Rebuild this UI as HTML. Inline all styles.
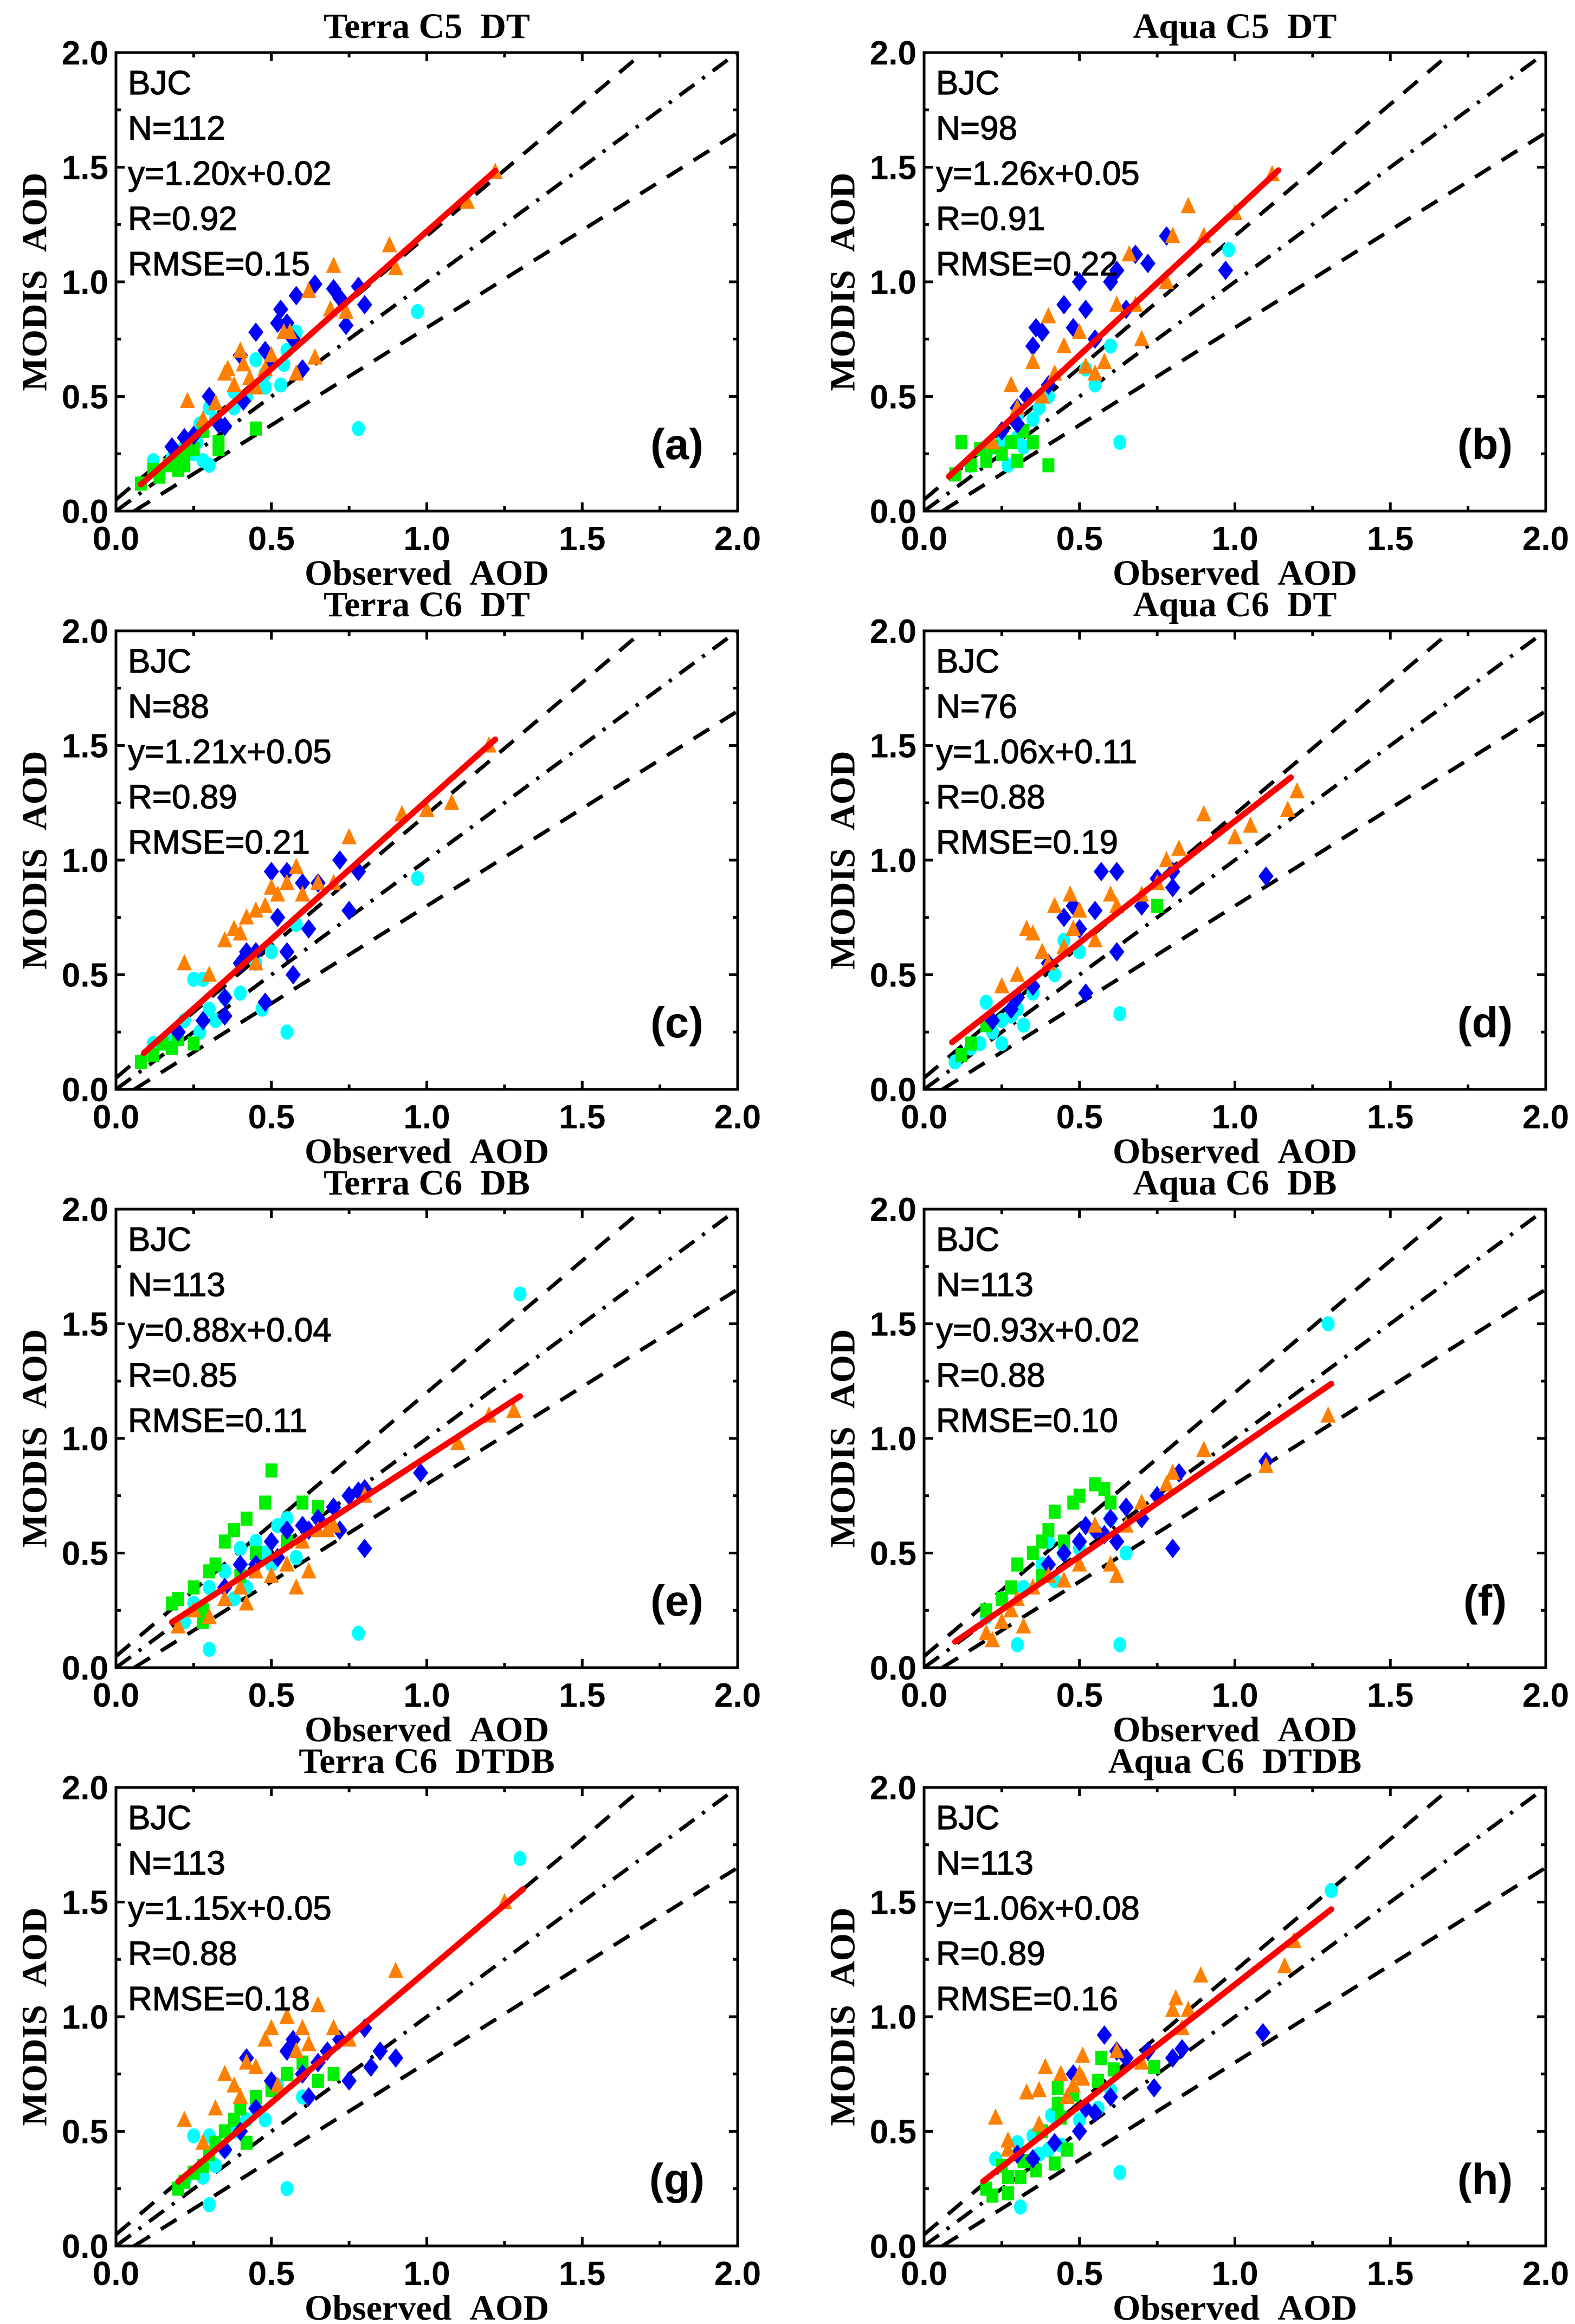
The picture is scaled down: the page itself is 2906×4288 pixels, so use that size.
<!DOCTYPE html>
<html><head><meta charset="utf-8"><style>
html,body{margin:0;padding:0;background:#fff;}
svg{display:block;}
</style></head><body>
<svg id="chart" width="2906" height="4288" viewBox="0 0 2906 4288" xmlns="http://www.w3.org/2000/svg"></svg>
<script>
// ---------- data ----------
const panelTitles = ["Terra C5\u00a0\u00a0DT","Aqua C5\u00a0\u00a0DT","Terra C6\u00a0\u00a0DT","Aqua C6\u00a0\u00a0DT","Terra C6\u00a0\u00a0DB","Aqua C6\u00a0\u00a0DB","Terra C6\u00a0\u00a0DTDB","Aqua C6\u00a0\u00a0DTDB"];
const panelLetters = ["(a)","(b)","(c)","(d)","(e)","(f)","(g)","(h)"];
const statN = ["112","98","88","76","113","113","113","113"];
const fitSlope = [1.20,1.26,1.21,1.06,0.88,0.93,1.15,1.06];
const fitIntercept = [0.02,0.05,0.05,0.11,0.04,0.02,0.05,0.08];
const fitRange = [[0.08,1.22],[0.08,1.14],[0.09,1.22],[0.09,1.18],[0.18,1.30],[0.10,1.31],[0.20,1.31],[0.19,1.31]];
const statR = ["0.92","0.91","0.89","0.88","0.85","0.88","0.88","0.89"];
const statRMSE = ["0.15","0.22","0.21","0.19","0.11","0.10","0.18","0.16"];
const tickValues = [0,0.5,1.0,1.5,2.0];
const tickLabels = ["0.0","0.5","1.0","1.5","2.0"];

const blueData = [
[[0.3,0.5],[0.33,0.38],[0.35,0.37],[0.4,0.68],[0.41,0.48],[0.45,0.78],[0.48,0.7],[0.5,0.65],[0.52,0.82],[0.53,0.88],[0.55,0.82],[0.57,0.75],[0.58,0.94],[0.6,0.62],[0.64,0.99],[0.7,0.97],[0.72,0.93],[0.74,0.81],[0.78,0.98],[0.8,0.9],[0.18,0.28],[0.22,0.32],[0.25,0.33]],
[[0.3,0.45],[0.33,0.5],[0.35,0.72],[0.36,0.8],[0.38,0.78],[0.4,0.55],[0.45,0.9],[0.48,0.8],[0.5,1.0],[0.52,0.88],[0.55,0.75],[0.6,1.0],[0.62,1.05],[0.65,0.88],[0.68,1.12],[0.72,1.08],[0.78,1.2],[0.97,1.05],[0.25,0.35],[0.3,0.38]],
[[0.2,0.25],[0.28,0.3],[0.35,0.4],[0.4,0.55],[0.42,0.6],[0.45,0.6],[0.48,0.38],[0.5,0.95],[0.52,0.75],[0.55,0.95],[0.55,0.6],[0.57,0.5],[0.6,0.9],[0.62,0.7],[0.65,0.9],[0.72,1.0],[0.75,0.78],[0.78,0.95],[0.35,0.32]],
[[0.22,0.3],[0.3,0.4],[0.35,0.45],[0.4,0.55],[0.45,0.75],[0.48,0.8],[0.5,0.7],[0.52,0.42],[0.55,0.78],[0.57,0.95],[0.62,0.95],[0.62,0.6],[0.7,0.8],[0.75,0.92],[0.8,0.88],[0.8,0.95],[1.1,0.93],[0.28,0.35]],
[[0.35,0.35],[0.4,0.45],[0.45,0.45],[0.5,0.55],[0.55,0.6],[0.6,0.62],[0.62,0.6],[0.65,0.65],[0.7,0.7],[0.72,0.6],[0.75,0.75],[0.78,0.77],[0.8,0.52],[0.8,0.78],[0.98,0.85],[0.52,0.48]],
[[0.4,0.45],[0.45,0.5],[0.5,0.55],[0.55,0.6],[0.58,0.58],[0.6,0.65],[0.62,0.55],[0.65,0.7],[0.7,0.65],[0.75,0.75],[0.8,0.52],[0.82,0.85],[1.1,0.9],[0.52,0.62]],
[[0.35,0.42],[0.4,0.5],[0.45,0.6],[0.5,0.72],[0.55,0.85],[0.57,0.9],[0.6,0.75],[0.62,0.65],[0.65,0.8],[0.68,0.85],[0.72,0.9],[0.75,0.72],[0.8,0.95],[0.82,0.78],[0.85,0.85],[0.9,0.82],[0.42,0.82]],
[[0.3,0.4],[0.35,0.38],[0.42,0.45],[0.48,0.75],[0.5,0.5],[0.52,0.6],[0.55,0.58],[0.58,0.92],[0.6,0.65],[0.62,0.85],[0.65,0.82],[0.72,0.85],[0.74,0.69],[0.8,0.82],[0.83,0.86],[1.09,0.93]]
];
const orangeData = [
[[0.23,0.48],[0.32,0.47],[0.36,0.62],[0.38,0.55],[0.4,0.7],[0.41,0.64],[0.43,0.58],[0.45,0.54],[0.48,0.62],[0.5,0.68],[0.54,0.78],[0.56,0.78],[0.58,0.6],[0.62,0.96],[0.64,0.67],[0.69,0.88],[0.7,1.07],[0.74,0.87],[0.88,1.16],[0.9,1.06],[1.13,1.35],[1.22,1.48],[0.28,0.4],[0.35,0.6]],
[[0.22,0.3],[0.28,0.55],[0.3,0.45],[0.35,0.65],[0.4,0.85],[0.42,0.6],[0.45,0.72],[0.5,0.78],[0.52,0.63],[0.55,0.6],[0.58,0.65],[0.62,0.9],[0.66,1.12],[0.68,0.9],[0.7,0.75],[0.78,1.0],[0.8,1.2],[0.85,1.33],[0.9,1.2],[1.0,1.3],[1.12,1.47],[0.38,0.5]],
[[0.22,0.55],[0.3,0.5],[0.35,0.65],[0.38,0.7],[0.4,0.68],[0.42,0.75],[0.45,0.78],[0.48,0.8],[0.5,0.88],[0.52,0.85],[0.55,0.9],[0.58,0.97],[0.6,0.85],[0.65,0.9],[0.7,0.9],[0.75,1.1],[0.92,1.2],[1.0,1.22],[1.08,1.25],[1.2,1.5],[0.45,0.55]],
[[0.25,0.45],[0.3,0.5],[0.33,0.7],[0.35,0.68],[0.4,0.55],[0.42,0.8],[0.45,0.62],[0.47,0.85],[0.48,0.7],[0.5,0.78],[0.55,0.65],[0.6,0.85],[0.62,0.8],[0.7,0.85],[0.75,0.9],[0.78,1.0],[0.82,1.05],[0.9,1.2],[1.0,1.1],[1.05,1.15],[1.17,1.22],[1.2,1.3],[0.38,0.6]],
[[0.2,0.18],[0.25,0.25],[0.3,0.22],[0.35,0.3],[0.4,0.35],[0.42,0.28],[0.45,0.42],[0.5,0.4],[0.55,0.45],[0.6,0.55],[0.62,0.42],[0.65,0.6],[0.68,0.6],[0.7,0.62],[0.8,0.75],[1.1,0.98],[1.2,1.1],[1.28,1.12],[0.58,0.35]],
[[0.2,0.15],[0.22,0.12],[0.25,0.2],[0.28,0.25],[0.3,0.3],[0.32,0.18],[0.35,0.35],[0.4,0.4],[0.45,0.38],[0.5,0.45],[0.55,0.62],[0.6,0.45],[0.65,0.62],[0.7,0.72],[0.78,0.8],[0.8,0.85],[0.9,0.95],[1.1,0.88],[1.3,1.1],[0.62,0.4]],
[[0.22,0.55],[0.28,0.45],[0.32,0.6],[0.35,0.75],[0.38,0.7],[0.4,0.65],[0.42,0.8],[0.45,0.78],[0.48,0.9],[0.5,0.95],[0.52,0.7],[0.55,1.0],[0.58,0.85],[0.6,0.95],[0.62,0.88],[0.65,1.05],[0.7,0.95],[0.75,0.9],[0.9,1.2],[1.25,1.5]],
[[0.23,0.56],[0.27,0.46],[0.27,0.42],[0.33,0.67],[0.37,0.68],[0.37,0.53],[0.39,0.78],[0.44,0.75],[0.46,0.65],[0.48,0.7],[0.5,0.75],[0.51,0.83],[0.51,0.73],[0.62,0.85],[0.7,0.8],[0.8,1.03],[0.81,1.08],[0.83,0.95],[0.85,1.03],[0.89,1.18],[1.16,1.22],[1.19,1.33]]
];
const cyanData = [
[[0.12,0.22],[0.18,0.23],[0.22,0.28],[0.25,0.25],[0.27,0.38],[0.28,0.22],[0.3,0.2],[0.3,0.45],[0.32,0.4],[0.38,0.45],[0.38,0.52],[0.42,0.5],[0.45,0.66],[0.48,0.54],[0.48,0.6],[0.53,0.55],[0.54,0.64],[0.55,0.7],[0.58,0.78],[0.78,0.36],[0.97,0.87],[0.26,0.3]],
[[0.15,0.2],[0.2,0.25],[0.25,0.3],[0.27,0.2],[0.3,0.32],[0.32,0.28],[0.35,0.4],[0.37,0.45],[0.4,0.5],[0.52,0.62],[0.55,0.55],[0.6,0.72],[0.63,0.3],[0.98,1.14],[0.3,0.42]],
[[0.12,0.2],[0.18,0.22],[0.22,0.3],[0.25,0.48],[0.27,0.25],[0.28,0.48],[0.3,0.35],[0.32,0.3],[0.35,0.4],[0.4,0.42],[0.45,0.55],[0.47,0.35],[0.5,0.6],[0.55,0.25],[0.58,0.72],[0.97,0.92]],
[[0.1,0.12],[0.15,0.18],[0.18,0.2],[0.2,0.38],[0.22,0.25],[0.25,0.3],[0.28,0.32],[0.3,0.35],[0.32,0.28],[0.35,0.42],[0.42,0.5],[0.45,0.65],[0.5,0.6],[0.63,0.33],[0.25,0.2]],
[[0.22,0.2],[0.25,0.28],[0.3,0.08],[0.3,0.35],[0.35,0.42],[0.38,0.3],[0.4,0.52],[0.42,0.35],[0.45,0.55],[0.5,0.45],[0.52,0.62],[0.55,0.65],[0.58,0.48],[0.78,0.15],[1.3,1.63],[0.48,0.5]],
[[0.2,0.22],[0.25,0.3],[0.3,0.1],[0.32,0.35],[0.38,0.45],[0.4,0.55],[0.42,0.38],[0.45,0.5],[0.5,0.52],[0.55,0.6],[0.6,0.65],[0.63,0.1],[0.65,0.5],[1.3,1.5]],
[[0.22,0.28],[0.25,0.48],[0.28,0.3],[0.3,0.48],[0.3,0.18],[0.32,0.35],[0.35,0.42],[0.38,0.5],[0.42,0.55],[0.45,0.6],[0.48,0.55],[0.52,0.7],[0.55,0.25],[0.6,0.65],[1.3,1.69]],
[[0.23,0.38],[0.3,0.45],[0.31,0.17],[0.35,0.48],[0.37,0.4],[0.41,0.57],[0.44,0.44],[0.5,0.55],[0.56,0.6],[0.6,0.68],[0.63,0.32],[1.31,1.55],[0.4,0.42]]
];
const greenData = [
[[0.08,0.12],[0.12,0.18],[0.14,0.15],[0.17,0.2],[0.2,0.18],[0.2,0.22],[0.22,0.25],[0.25,0.27],[0.28,0.35],[0.33,0.27],[0.33,0.3],[0.45,0.36],[0.22,0.2]],
[[0.1,0.16],[0.12,0.3],[0.15,0.2],[0.2,0.22],[0.22,0.28],[0.25,0.25],[0.28,0.3],[0.32,0.35],[0.35,0.3],[0.4,0.2],[0.3,0.22],[0.18,0.27]],
[[0.08,0.12],[0.12,0.15],[0.15,0.2],[0.18,0.18],[0.2,0.22],[0.25,0.2]],
[[0.12,0.15],[0.15,0.2],[0.2,0.28],[0.75,0.8]],
[[0.18,0.28],[0.2,0.3],[0.25,0.35],[0.28,0.25],[0.3,0.42],[0.32,0.45],[0.35,0.55],[0.38,0.6],[0.4,0.4],[0.42,0.65],[0.45,0.5],[0.48,0.72],[0.5,0.86],[0.55,0.55],[0.6,0.72],[0.65,0.7],[0.28,0.2]],
[[0.2,0.25],[0.25,0.3],[0.28,0.35],[0.3,0.45],[0.35,0.5],[0.38,0.55],[0.4,0.6],[0.42,0.68],[0.45,0.55],[0.48,0.72],[0.5,0.75],[0.55,0.8],[0.58,0.78],[0.6,0.72],[0.38,0.4]],
[[0.2,0.25],[0.22,0.28],[0.25,0.32],[0.28,0.35],[0.3,0.4],[0.32,0.45],[0.35,0.5],[0.38,0.55],[0.4,0.6],[0.42,0.45],[0.45,0.65],[0.5,0.68],[0.55,0.75],[0.6,0.8],[0.65,0.72],[0.7,0.75]],
[[0.2,0.25],[0.22,0.22],[0.25,0.35],[0.27,0.3],[0.27,0.23],[0.31,0.3],[0.32,0.37],[0.36,0.33],[0.38,0.5],[0.42,0.36],[0.43,0.62],[0.43,0.69],[0.44,0.56],[0.46,0.42],[0.48,0.66],[0.57,0.82],[0.56,0.72],[0.61,0.77],[0.74,0.78]]
];

// ---------- drawing ----------
const NS = "http://www.w3.org/2000/svg";
const svg = document.getElementById("chart");
const colLeft = [214, 1705];
const PW = 1147, PH = 846;
const rowTop = [97, 1164, 2231, 3298];

function mk(tag, attrs, parent) {
  const e = document.createElementNS(NS, tag);
  for (const k in attrs) e.setAttribute(k, attrs[k]);
  parent.appendChild(e);
  return e;
}

for (let p = 0; p < 8; p++) {
  const L = colLeft[p % 2], T = rowTop[Math.floor(p / 2)];
  const sx = v => L + v / 2 * PW;
  const sy = v => T + PH - v / 2 * PH;
  const g = mk("g", {}, svg);
  
  

  const clipId = "clip" + p;
  const cp = mk("clipPath", {id: clipId}, g);
  mk("rect", {x: L, y: T, width: PW, height: PH}, cp);

  const title = mk("text", {x: L + PW / 2, y: T - 27, "text-anchor": "middle", "font-family": "Liberation Serif, serif", "font-weight": "bold", "font-size": 66}, g);
  title.textContent = panelTitles[p];
  
  

  const lines = mk("g", {"clip-path": "url(#" + clipId + ")"}, g);
  const oneToOne = mk("line", {x1: sx(0), y1: sy(0), x2: sx(2), y2: sy(2), stroke: "#000", "stroke-width": 7, "stroke-dasharray": "34 18 6 18"}, lines);
  
  
  const upper = mk("line", {x1: sx(0), y1: sy(0.05), x2: sx(2), y2: sy(2 * 1.15 + 0.05), stroke: "#000", "stroke-width": 7, "stroke-dasharray": "34 24"}, lines);
  
  
  const lower = mk("line", {x1: sx(0.0588), y1: sy(0), x2: sx(2), y2: sy(2 * 0.85 - 0.05), stroke: "#000", "stroke-width": 7, "stroke-dasharray": "34 24"}, lines);
  
  

  const pts = mk("g", {"clip-path": "url(#" + clipId + ")"}, g);
  cyanData[p].forEach(d => {
    const c = mk("ellipse", {cx: sx(d[0]), cy: sy(d[1]), rx: 12, ry: 14, fill: "#00ffff"}, pts);
    
    
  });
  greenData[p].forEach(d => {
    const r = mk("rect", {x: sx(d[0]) - 11, y: sy(d[1]) - 13, width: 22, height: 26, fill: "#00ee00"}, pts);
    
    
  });
  blueData[p].forEach(d => {
    const x = sx(d[0]), y = sy(d[1]);
    const q = mk("polygon", {points: `${x},${y-18} ${x+14},${y} ${x},${y+18} ${x-14},${y}`, fill: "#0000ff"}, pts);
    
    
  });
  orangeData[p].forEach(d => {
    const x = sx(d[0]), y = sy(d[1]);
    const t = mk("polygon", {points: `${x},${y-17} ${x+14},${y+13} ${x-14},${y+13}`, fill: "#ff7f00"}, pts);
    
    
  });

  const x0 = fitRange[p][0], x1 = fitRange[p][1];
  const fit = mk("line", {x1: sx(x0), y1: sy(fitSlope[p] * x0 + fitIntercept[p]), x2: sx(x1), y2: sy(fitSlope[p] * x1 + fitIntercept[p]), stroke: "#ff0000", "stroke-width": 11, "stroke-linecap": "round"}, g);
  
  

  const frame = mk("rect", {x: L, y: T, width: PW, height: PH, fill: "none", stroke: "#000", "stroke-width": 5}, g);
  
  

  for (let v = 0; v <= 2.0001; v += 0.25) {
    const major = Math.abs(v * 2 - Math.round(v * 2)) < 1e-6;
    const len = major ? 16 : 9;
    mk("line", {x1: sx(v), y1: T + PH, x2: sx(v), y2: T + PH - len, stroke: "#000", "stroke-width": 5}, g);
    mk("line", {x1: sx(v), y1: T, x2: sx(v), y2: T + len, stroke: "#000", "stroke-width": 5}, g);
    mk("line", {x1: L, y1: sy(v), x2: L + len, y2: sy(v), stroke: "#000", "stroke-width": 5}, g);
    mk("line", {x1: L + PW, y1: sy(v), x2: L + PW - len, y2: sy(v), stroke: "#000", "stroke-width": 5}, g);
  }
  tickValues.forEach((v, i) => {
    const tx = mk("text", {x: sx(v), y: T + PH + 72, "text-anchor": "middle", "font-family": "Liberation Sans, sans-serif", "font-weight": "bold", "font-size": 62}, g);
    tx.textContent = tickLabels[i];
    
    
    const ty = mk("text", {x: L - 14, y: sy(v) + 22, "text-anchor": "end", "font-family": "Liberation Sans, sans-serif", "font-weight": "bold", "font-size": 62}, g);
    ty.textContent = tickLabels[i];
    
    
  });

  const xt = mk("text", {x: L + PW / 2, y: T + PH + 136, "text-anchor": "middle", "font-family": "Liberation Serif, serif", "font-weight": "bold", "font-size": 66}, g);
  xt.textContent = "Observed\u00a0\u00a0AOD";
  
  
  const yc = L - 150, ycy = T + PH / 2;
  const yt = mk("text", {x: yc, y: ycy, "text-anchor": "middle", transform: `rotate(-90 ${yc} ${ycy})`, "font-family": "Liberation Serif, serif", "font-weight": "bold", "font-size": 66, "dominant-baseline": "central"}, g);
  yt.textContent = "MODIS\u00a0\u00a0AOD";
  
  

  const sign = fitIntercept[p] >= 0 ? "+" : "";
  const statLines = ["BJC", "N=" + statN[p], "y=" + fitSlope[p].toFixed(2) + "x" + sign + fitIntercept[p].toFixed(2), "R=" + statR[p], "RMSE=" + statRMSE[p]];
  statLines.forEach((s, i) => {
    const st = mk("text", {x: L + 22, y: T + 77 + i * 83.5, "font-family": "Liberation Sans, sans-serif", "font-size": 62, stroke: "#000", "stroke-width": 1.2}, g);
    st.textContent = s;
    
    
  });

  const pl = mk("text", {x: L + PW - 112, y: T + PH - 96, "text-anchor": "middle", "font-family": "Liberation Sans, sans-serif", "font-weight": "bold", "font-size": 80}, g);
  pl.textContent = panelLetters[p];
  
  
}
</script>
</body></html>
